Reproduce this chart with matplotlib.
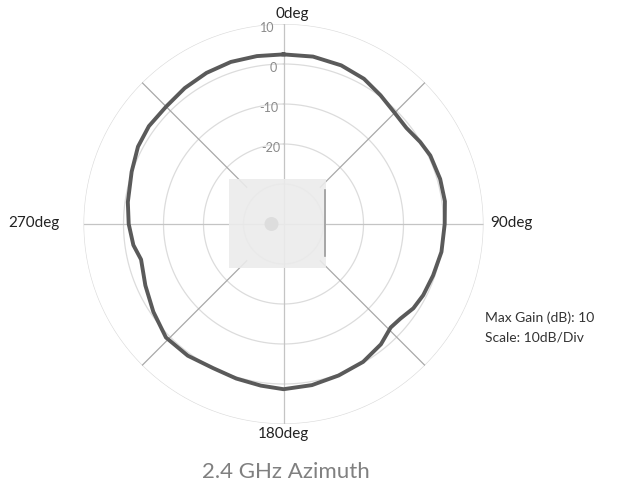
import numpy as np
import matplotlib.pyplot as plt
from matplotlib.patches import Rectangle, Ellipse

# measured azimuth pattern, 2.4 GHz (angle in degrees, gain in dB)
angles_deg = [0, 10, 20, 29, 37, 45, 52, 59, 65, 74, 82, 90, 100, 109, 117,
              123, 129, 134, 141, 150, 160, 170, 180, 188, 197, 206, 216, 226,
              236, 246, 256, 262, 270, 278, 289, 298, 306, 315, 324, 333, 342,
              351, 360]
gain_db = [2.4, 2.5, 2.2, 1.5, 0.3, -0.7, -1.0, -0.15, 0.5, 0.75, 0.75, 0.3,
           0.1, -0.45, -0.8, -1.3, -2.4, -2.75, -1.3, -0.2, 0.3, 0.9, 1.3, 0.8,
           0.4, 0.1, 0.7, 0.85, -0.75, -2.2, -3.3, -2.1, -1.3, -0.7, 0.15, 1.2,
           1.6, 1.5, 2.0, 2.4, 2.6, 2.5, 2.4]

ring_values = [10, 0, -10, -20, -30]
ring_labels = ['10', '0', '-10', '-20']
r_min, r_max = -40, 10

plt.rcParams['font.family'] = ['Lato', 'DejaVu Sans']

fig = plt.figure(figsize=(6.17, 4.93), dpi=100)
ax = fig.add_axes([83.5 / 617, 69 / 493, 400 / 617, 400 / 493], projection='polar')
ax.set_theta_zero_location('N')
ax.set_theta_direction(-1)
ax.set_ylim(r_min, r_max)
ax.grid(False)
ax.set_xticks([])
ax.set_yticks([])
ax.spines['polar'].set_visible(False)

# rings
t = np.linspace(0, 2 * np.pi, 400)
for rv in ring_values:
    ax.plot(t, np.full_like(t, rv), color='#dcdcdc', lw=0.9, zorder=1)

# spokes
for a in [0, 90, 180, 270]:
    ax.plot([np.radians(a)] * 2, [r_min, r_max], color='#c4c4c4', lw=0.9, zorder=1)
for a in [45, 135, 225, 315]:
    ax.plot([np.radians(a)] * 2, [-27, r_max], color='#a8a8a8', lw=0.9, zorder=1)

# device outline in the middle
ax.add_patch(Rectangle((0.3625, 0.39), 0.2425, 0.2225, transform=ax.transAxes,
                       facecolor='#ebebeb', edgecolor='none', alpha=0.9, zorder=2))
ax.add_patch(Ellipse((0.47, 0.5), 0.035, 0.035, transform=ax.transAxes,
                     facecolor='#dddddd', edgecolor='none', zorder=3))
ax.plot([0.603, 0.603], [0.42, 0.585], transform=ax.transAxes,
        color='#9a9a9a', lw=1.2, zorder=3)

# pattern
th = np.radians(angles_deg)
ax.plot(th, gain_db, color='#5a5a5a', lw=2.8, zorder=4, solid_joinstyle='round')

# ring value labels along the 0deg spoke
for rv, lab in zip(ring_values, ring_labels):
    ax.text(np.radians(-2.5), rv - 1, lab, ha='right', va='center',
            fontsize=9, color='#8a8a8a', zorder=5)

# direction labels
fig.text(275 / 617, 1 - 14 / 493, '0deg', ha='left', va='center',
         fontsize=11, color='#222222')
fig.text(490 / 617, 1 - 223 / 493, '90deg', ha='left', va='center',
         fontsize=11, color='#222222')
fig.text(8 / 617, 1 - 223 / 493, '270deg', ha='left', va='center',
         fontsize=11, color='#222222')
fig.text(283 / 617, 1 - 434 / 493, '180deg', ha='center', va='center',
         fontsize=11, color='#222222')

fig.text(485 / 617, 1 - 318 / 493, 'Max Gain (dB): 10', ha='left', va='center',
         fontsize=10, color='#333333')
fig.text(485 / 617, 1 - 338 / 493, 'Scale: 10dB/Div', ha='left', va='center',
         fontsize=10, color='#333333')

fig.text(286 / 617, 1 - 472 / 493, '2.4 GHz Azimuth', ha='center', va='center',
         fontsize=16, color='#808080')

fig.savefig('out.png', dpi=100)
